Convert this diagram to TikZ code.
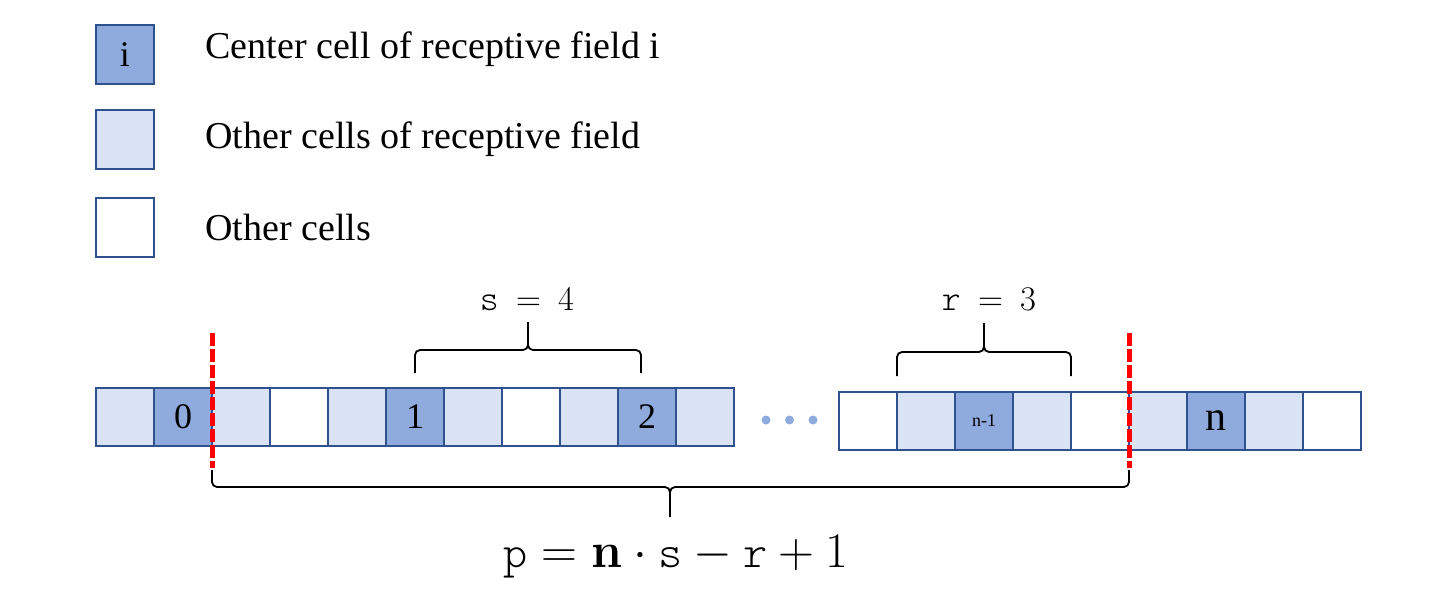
\documentclass[tikz,border=0pt]{standalone}
\usepackage[no-math]{fontspec}
\setmainfont{Liberation Serif}
\newfontfamily\thintt{lmmonolt10-regular.otf}
\usetikzlibrary{positioning}
\definecolor{cellline}{HTML}{2F528F}
\definecolor{ctrfill}{HTML}{8FAADC}
\definecolor{rffill}{HTML}{DAE3F3}
\newcommand{\tv}[1]{\mbox{\thintt #1}}

\begin{document}
\begin{tikzpicture}[
  x=0.5pt, y=-0.5pt,
  node distance=0pt,
  cell/.style={draw=cellline, line width=1pt, outer sep=0pt, inner sep=0pt,
               minimum width=29pt, minimum height=29pt,
               font=\fontsize{18}{18}\selectfont},
  ctr/.style={cell, fill=ctrfill},
  rf/.style={cell, fill=rffill},
  oth/.style={cell, fill=white},
  lgd/.style={anchor=base west, inner sep=0pt, font=\fontsize{19}{19}\selectfont},
  dot/.style={circle, fill=ctrfill, inner sep=0pt, minimum size=4.5pt},
  cut/.style={red, line width=2.5pt, dash pattern=on 6.5pt off 1.5pt},
  brc/.style={line width=0.9pt, rounded corners=2.5pt},
  eq/.style={anchor=base, font=\fontsize{18}{18}\selectfont}
]
\useasboundingbox (0,0) rectangle (1442,601);

% legend
\node[ctr, minimum height=29.5pt] (key1) at (125,54.5) {i};
\node[rf, minimum height=29.5pt] (key2) at (125,139.5) {};
\node[oth, minimum height=29.5pt] (key3) at (125,227) {};
\node[lgd] (txt1) at (205,58) {Center cell of receptive field i};
\node[lgd] (txt2) at (205,148) {Other cells of receptive field};
\node[lgd] (txt3) at (205,240) {Other cells};

% first part of the row
\node[rf, anchor=north west] (c1) at (96,388) {};
\node[ctr, right=of c1] (c2) {0};
\node[rf, right=of c2] (c3) {};
\node[oth, right=of c3] (c4) {};
\node[rf, right=of c4] (c5) {};
\node[ctr, right=of c5] (c6) {1};
\node[rf, right=of c6] (c7) {};
\node[oth, right=of c7] (c8) {};
\node[rf, right=of c8] (c9) {};
\node[ctr, right=of c9] (c10) {2};
\node[rf, right=of c10] (c11) {};

\node[dot] (dot1) at (766,420) {};
\node[dot] (dot2) at (789.5,420) {};
\node[dot] (dot3) at (813,420) {};

% last part of the row
\node[oth, anchor=north west] (r1) at (839,392) {};
\node[rf, right=of r1] (r2) {};
\node[ctr, right=of r2, font=\fontsize{9}{9}\selectfont] (r3) {n-1};
\node[rf, right=of r3] (r4) {};
\node[oth, right=of r4] (r5) {};
\node[rf, right=of r5] (r6) {};
\node[ctr, right=of r6, font=\fontsize{21}{21}\selectfont] (r7) {n};
\node[rf, right=of r7] (r8) {};
\node[oth, right=of r8] (r9) {};

% cuts
\draw[cut] ([yshift=27.5pt]c2.north east) -- ([yshift=-11pt]c2.south east);
\draw[cut] ([yshift=29.5pt]r5.north east) -- ([yshift=-9pt]r5.south east);

% braces
\draw[brc] (415,373) |- (528,350) -- (528,322) (641,373) |- (528,350) -- (528,340);
\node[eq] (slab) at (527,310) {$\tv{s}\mkern4mu=\mkern4mu4$};
\draw[brc] (897,376) |- (984,352) -- (984,323) (1071,376) |- (984,352) -- (984,342);
\node[eq] (rlab) at (989,310) {$\tv{r}\mkern4mu=\mkern4mu3$};
\draw[brc] (212,470) |- (670,487) -- (670,517) (1129,470) |- (670,487) -- (670,497);
\node[eq, font=\fontsize{23}{23}\selectfont] (plab) at (676,567)
  {$\tv{p}=\mathbf{n}\cdot\tv{s}-\tv{r}+1$};
\end{tikzpicture}
\end{document}
